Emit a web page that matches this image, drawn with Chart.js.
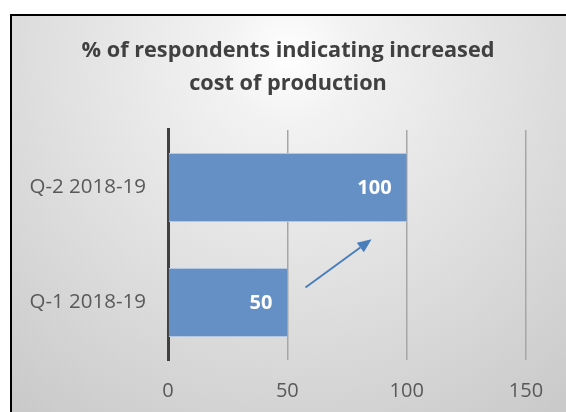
<!DOCTYPE html>
<html><head><meta charset="utf-8">
<script src="https://cdn.jsdelivr.net/npm/chart.js@4"></script>
<style>
html,body{margin:0;padding:0;background:#fff;}
#wrap{position:relative;width:566px;height:412px;overflow:hidden;}
#bg{position:absolute;left:10px;top:14px;width:600px;height:420px;border-left:2px solid #000;border-top:2px solid #000;
background:radial-gradient(circle 450px at 276px 40px,#ffffff 0%,#f2f2f2 15%,#c9c9c9 100%);}
canvas{position:absolute;left:0;top:0;}
</style></head>
<body>
<div id="wrap"><div id="bg"></div><canvas id="c" width="566" height="412"></canvas></div>
<script>
const titleLines = ['% of respondents indicating increased', 'cost of production'];
const categories = ['Q-2 2018-19', 'Q-1 2018-19'];
const values = [100, 50];
const xTicks = [0, 50, 100, 150];
// arrow annotation in data units: [value, category index]
const arrowFrom = [57.6, 0.87];
const arrowTo = [85.3, 0.45];

const FONT = "'Open Sans', 'Noto Sans', sans-serif";

const labelPlugin = {
  id: 'barLabels',
  afterDatasetsDraw(chart) {
    const ctx = chart.ctx;
    const meta = chart.getDatasetMeta(0);
    ctx.save();
    ctx.fillStyle = '#ffffff';
    ctx.font = 'bold 20px ' + FONT;
    ctx.textAlign = 'right';
    ctx.textBaseline = 'middle';
    meta.data.forEach((el, i) => {
      ctx.fillText(String(values[i]), el.x - 15, el.y + 1);
    });
    ctx.restore();
  }
};

const arrowPlugin = {
  id: 'arrow',
  afterDatasetsDraw(chart) {
    const xs = chart.scales.x, ys = chart.scales.y;
    const x1 = xs.getPixelForValue(arrowFrom[0]), y1 = ys.getPixelForValue(arrowFrom[1]);
    const x2 = xs.getPixelForValue(arrowTo[0]), y2 = ys.getPixelForValue(arrowTo[1]);
    const ctx = chart.ctx;
    const ang = Math.atan2(y2 - y1, x2 - x1);
    const hl = 14, hw = 6;
    const bx = x2 - hl * Math.cos(ang), by = y2 - hl * Math.sin(ang);
    ctx.save();
    ctx.strokeStyle = '#4a7ebb';
    ctx.fillStyle = '#4a7ebb';
    ctx.lineWidth = 2;
    ctx.beginPath();
    ctx.moveTo(x1, y1);
    ctx.lineTo(bx, by);
    ctx.stroke();
    ctx.beginPath();
    ctx.moveTo(x2, y2);
    ctx.lineTo(bx + hw * Math.sin(ang), by - hw * Math.cos(ang));
    ctx.lineTo(bx - hw * Math.sin(ang), by + hw * Math.cos(ang));
    ctx.closePath();
    ctx.fill();
    ctx.restore();
  }
};

new Chart(document.getElementById('c'), {
  type: 'bar',
  data: {
    labels: categories,
    datasets: [{
      data: values,
      backgroundColor: '#6590c5',
      borderColor: '#b3c7e3',
      borderWidth: {top: 1, bottom: 1, left: 0, right: 0},
      borderSkipped: false,
      barPercentage: 0.6,
      categoryPercentage: 1.0
    }]
  },
  options: {
    indexAxis: 'y',
    responsive: false,
    animation: false,
    layout: {padding: {left: 10, right: 0, top: 0, bottom: 0}},
    plugins: {
      legend: {display: false},
      tooltip: {enabled: false},
      title: {
        display: true,
        text: titleLines,
        color: '#404040',
        font: {family: FONT, size: 21.7, weight: 'bold', lineHeight: 1.52},
        padding: {top: 34, bottom: 30}
      }
    },
    scales: {
      x: {
        min: 0, max: 150,
        afterBuildTicks(scale) { scale.ticks = xTicks.map(v => ({value: v})); },
        afterFit(scale) { scale.height = 52; },
        grid: {color: '#a6a6a6', lineWidth: 1.5, drawTicks: false},
        border: {display: false},
        ticks: {color: '#595959', font: {family: FONT, size: 20}, padding: 19}
      },
      y: {
        afterFit(scale) { scale.width = 158; },
        grid: {display: false, drawTicks: false},
        border: {display: true, color: '#404040', width: 3},
        ticks: {color: '#595959', font: {family: FONT, size: 20.5}, padding: 22}
      },
      yr: {
        type: 'category',
        position: 'right',
        afterFit(scale) { scale.width = 40; },
        grid: {display: false, drawTicks: false},
        border: {display: false},
        ticks: {display: false}
      }
    }
  },
  plugins: [labelPlugin, arrowPlugin]
});
</script>
</body></html>
